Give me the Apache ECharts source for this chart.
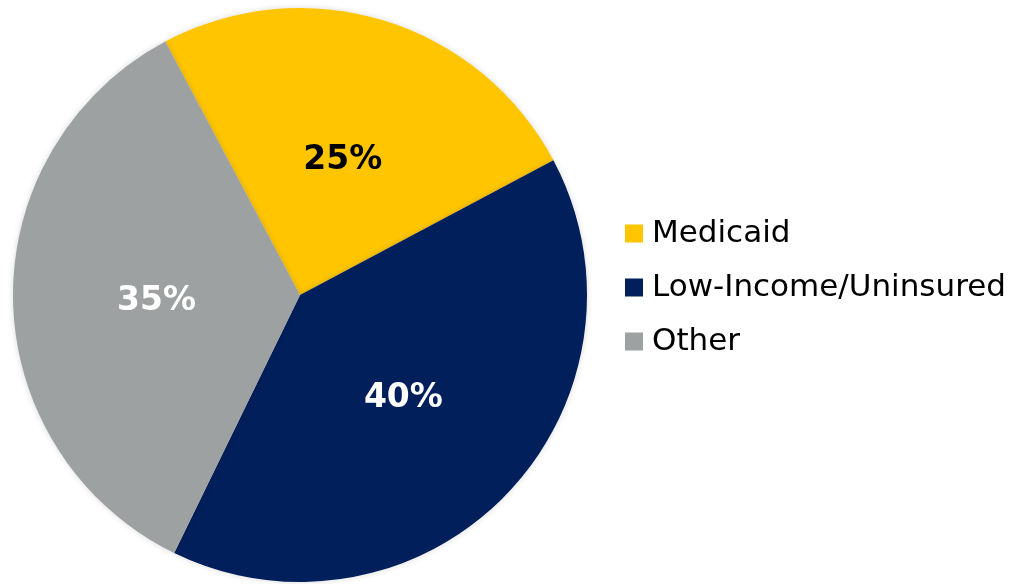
<!DOCTYPE html>
<html>
<head>
<meta charset="utf-8">
<script src="https://cdn.jsdelivr.net/npm/echarts@6/dist/echarts.min.js"></script>
<style>
  html, body { margin: 0; padding: 0; background: #fff; }
  #main { width: 1032px; height: 584px; }
</style>
</head>
<body>
<div id="main"></div>
<script>
  // chart data
  var categories = ['Medicaid', 'Low-Income/Uninsured', 'Other'];
  var shares = [25, 40, 35];
  var colors = ['#FFC600', '#001F5B', '#9DA1A1'];
  var labelColors = ['#000000', '#ffffff', '#ffffff'];
  // small nudges so the labels sit like the original
  var labelNudge = [[0, 6], [-2, 2], [3, 4]];

  var chart = echarts.init(document.getElementById('main'));

  var option = {
    animation: false,
    legend: {
      orient: 'vertical',
      left: 620,
      top: 213,
      icon: 'rect',
      itemWidth: 18,
      itemHeight: 18,
      itemGap: 23,
      textStyle: {
        fontFamily: 'DejaVu Sans',
        fontSize: 31,
        color: '#000',
        padding: [0, 0, 0, 4]
      },
      data: categories
    },
    series: [
      {
        type: 'pie',
        center: [300, 295],
        radius: 287,
        startAngle: 118,
        clockwise: true,
        label: {
          show: true,
          position: 'inside',
          formatter: '{c}%',
          fontFamily: 'DejaVu Sans',
          fontWeight: 'bold',
          fontSize: 33
        },
        labelLine: { show: false },
        itemStyle: {
          shadowBlur: 6,
          shadowColor: 'rgba(0,0,0,0.15)'
        },
        emphasis: { disabled: true },
        data: categories.map(function (name, i) {
          return {
            name: name,
            value: shares[i],
            itemStyle: { color: colors[i] },
            label: { color: labelColors[i], offset: labelNudge[i] }
          };
        })
      }
    ]
  };

  chart.setOption(option);
</script>
</body>
</html>
